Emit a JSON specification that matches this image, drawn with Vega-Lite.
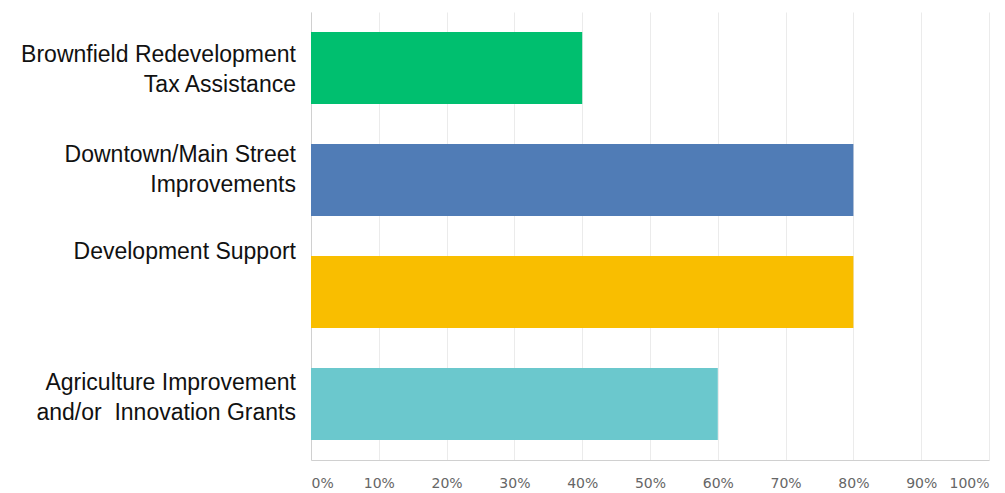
{
  "$schema": "https://vega.github.io/schema/vega-lite/v6.json",
  "width": 678,
  "height": 448,
  "autosize": "none",
  "padding": {"left": 311, "top": 12, "right": 16, "bottom": 33},
  "background": "white",
  "data": {
    "values": [
      {"category": "Brownfield Redevelopment|Tax Assistance", "value": 0.4, "color": "#00BF6F"},
      {"category": "Downtown/Main Street|Improvements\u00a0", "value": 0.8, "color": "#507CB6"},
      {"category": "Development Support", "value": 0.8, "color": "#F9BE00"},
      {"category": "Agriculture Improvement|and/or\u00a0 Innovation Grants", "value": 0.6, "color": "#6BC8CD"}
    ]
  },
  "encoding": {
    "y": {
      "field": "category",
      "type": "nominal",
      "sort": null,
      "scale": {"paddingInner": 0.357, "paddingOuter": 0.1785},
      "axis": {
        "title": null,
        "ticks": false,
        "labels": false,
        "domain": true,
        "domainColor": "#d0d0d0",
        "domainWidth": 1,
        "grid": false
      }
    }
  },
  "layer": [
    {
      "mark": {"type": "bar"},
      "encoding": {
        "x": {
          "field": "value",
          "type": "quantitative",
          "scale": {"domain": [0, 1], "nice": false},
          "axis": {
            "title": null,
            "format": ".0%",
            "values": [0, 0.1, 0.2, 0.3, 0.4, 0.5, 0.6, 0.7, 0.8, 0.9, 1],
            "ticks": false,
            "domainColor": "#d0d0d0",
            "grid": true,
            "gridColor": "#ebebeb",
            "gridWidth": 1,
            "labelFont": "DejaVu Sans",
            "labelFontSize": 14,
            "labelColor": "#666666",
            "labelPadding": 16
          }
        },
        "color": {"field": "color", "type": "nominal", "scale": null}
      }
    },
    {
      "mark": {
        "type": "text",
        "align": "right",
        "baseline": "middle",
        "dx": -15,
        "font": "Liberation Sans",
        "fontSize": 23,
        "lineHeight": 30,
        "lineBreak": "|",
        "color": "#111111",
        "dy": {"expr": "indexof(datum.category, 'Brownfield') == 0 ? -13 : indexof(datum.category, 'Downtown') == 0 ? -25 : indexof(datum.category, 'Development') == 0 ? -40 : -21"}
      },
      "encoding": {
        "x": {"datum": 0},
        "text": {"field": "category", "type": "nominal"}
      }
    }
  ],
  "config": {"view": {"stroke": null}}
}
